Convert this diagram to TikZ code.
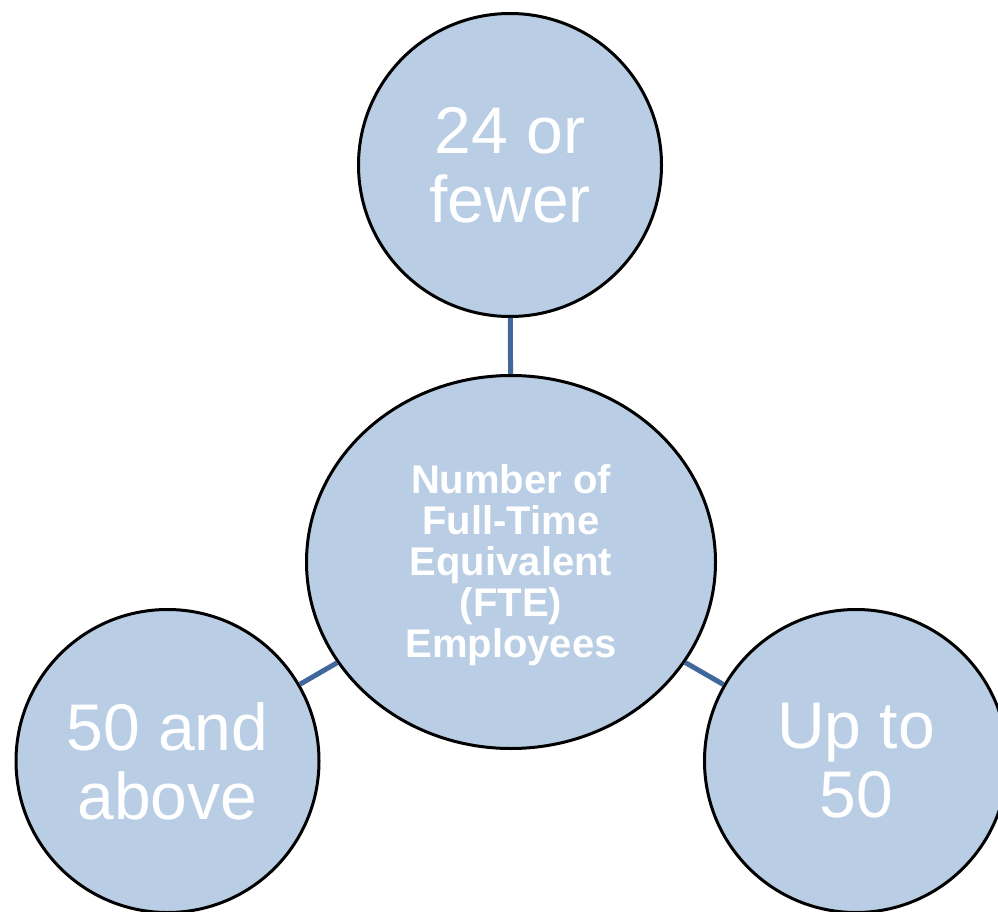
\documentclass[tikz,border=0pt]{standalone}
\usepackage{fontspec}
\setmainfont{Liberation Sans}
\usetikzlibrary{shapes.geometric}
\definecolor{bubfill}{HTML}{B9CDE5}
\definecolor{linkcol}{HTML}{41689B}
\tikzset{
  bub/.style={circle, draw=black, line width=3pt, fill=bubfill, minimum size=303pt, inner sep=0pt,
    text=white, align=center, font=\fontsize{66}{69}\selectfont},
  hub/.style={ellipse, draw=black, line width=3pt, fill=bubfill, minimum width=409pt, minimum height=373pt, inner sep=0pt,
    text=white, align=center, font=\fontsize{40}{41}\selectfont\bfseries},
  link/.style={draw=linkcol, line width=5pt}
}
\begin{document}
\begin{tikzpicture}[x=1pt,y=-1pt]
\useasboundingbox (0,0) rectangle (998,912);
\clip (0,0) rectangle (998,912);
\node[hub] (ctr) at (511,562) {};
\node[text=white, align=center, font=\fontsize{40}{41}\selectfont\bfseries] (ctrtext) at (511,565) {Number of\\Full-Time\\Equivalent\\(FTE)\\Employees};
\node[bub] (top) at (510,165) {24 or\\fewer};
\node[bub] (left) at (167.5,761) {50 and\\above};
\node[bub] (right) at (856,761) {Up to\\50};
\draw[link] (top) -- (ctr);
\draw[link] (left) -- (ctr);
\draw[link] (right) -- (ctr);
\end{tikzpicture}
\end{document}
